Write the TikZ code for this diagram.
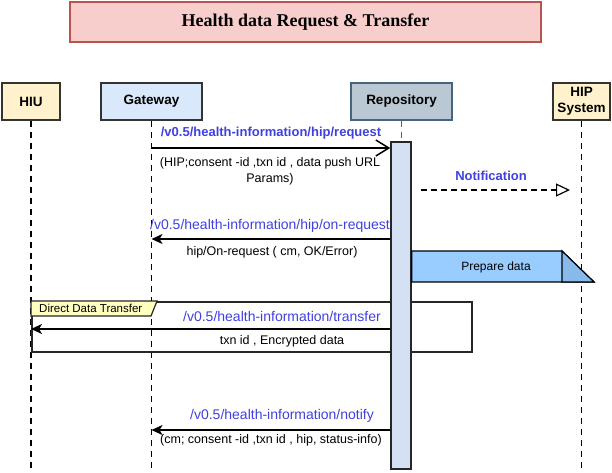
\documentclass[tikz,border=0pt]{standalone}
\usepackage{fontspec}
\setmainfont{Liberation Sans}
\newfontfamily\titlefont{Liberation Serif}
\usepackage{tikz}
\usetikzlibrary{shapes,arrows,arrows.meta,positioning,fit,backgrounds}
\definecolor{titlered}{RGB}{248, 206, 204}
\definecolor{titleedge}{RGB}{184, 84, 80}
\definecolor{paleyellow}{RGB}{255, 242, 204}
\definecolor{paleblue}{RGB}{218, 232, 252}
\definecolor{slategrey}{RGB}{186, 200, 211}
\definecolor{slateedge}{RGB}{70, 100, 125}
\definecolor{barblue}{RGB}{212, 225, 245}
\definecolor{prepblue}{RGB}{153, 204, 255}
\definecolor{foldblue}{RGB}{135, 185, 235}
\definecolor{tabyellow}{RGB}{255, 255, 192}
\definecolor{apiblue}{RGB}{64, 64, 224}
\newcommand{\msgfont}{\fontsize{12.5}{16}\selectfont}
\newcommand{\apifont}{\fontsize{14}{16}\selectfont}
\tikzstyle{titlebox} = [rectangle, draw=titleedge, line width=1.5pt, fill=titlered, text=black, text centered, font=\titlefont\bfseries\fontsize{18}{20}\selectfont]
\tikzstyle{actor} = [rectangle, draw=black!80, line width=1.5pt, text=black, align=center, font=\bfseries\fontsize{13.5}{16}\selectfont, minimum height=37pt, inner sep=1pt]
\tikzstyle{lifeline} = [draw, line width=1.2pt, dash pattern=on 6pt off 5pt]
\tikzstyle{activation} = [rectangle, draw=black!85, line width=1.5pt, fill=barblue]
\tikzstyle{call} = [draw, line width=1.5pt, -{Straight Barb[length=13pt, width=16pt, line width=1.5pt]}]
\tikzstyle{reply} = [draw, line width=1.5pt, -{Stealth[length=11pt, width=10pt, inset=3pt]}]
\tikzstyle{signal} = [draw, line width=1.2pt, dash pattern=on 6pt off 4pt, -{Triangle[open, length=14pt, width=13pt, line width=1.2pt]}]
\tikzstyle{apitext} = [draw=none, fill=none, text=apiblue, font=\apifont, inner sep=0pt]
\tikzstyle{msgtext} = [draw=none, fill=none, text=black, font=\msgfont, align=center, inner sep=0pt]
\tikzstyle{dframe} = [rectangle, draw=black!85, line width=1.5pt, anchor=north west]

\begin{document}
\begin{tikzpicture}[x=1pt, y=-1pt]
\useasboundingbox (0,0) rectangle (612,472);

% title ==================================
\node[titlebox, minimum width=471pt, minimum height=40pt] (title) at (305.5,22) {Health data Request \& Transfer};

% actors =================================
\node[actor, fill=paleyellow, minimum width=58pt] (hiu) at (31,101.5) {HIU};
\node[actor, fill=paleblue, minimum width=101pt] (gateway) at (151.5,101.5) {Gateway};
\node[actor, fill=slategrey, draw=slateedge, minimum width=101pt] (repo) at (401.5,101.5) {Repository};
\node[actor, fill=paleyellow, minimum width=57pt] (hip) at (581.5,101.5) {HIP\\System};
\coordinate (bottom) at (0,472);

% lifelines
\path[lifeline] (hiu.south) -- (hiu.south |- bottom);
\path[lifeline] (gateway.south) -- (gateway.south |- bottom);
\path[lifeline, draw=slateedge] (repo.south) -- (repo.south |- bottom);
\path[lifeline] (hip.south) -- (hip.south |- bottom);

% direct data transfer frame
\node[dframe, minimum width=440pt, minimum height=50pt] (transferframe) at (31,301) {};
\path[draw=black!85, line width=1.2pt, fill=tabyellow] (transferframe.north west) -- ++(126,0) -- ++(-6,15) -- ++(-120,0) -- cycle;
\node[msgtext, anchor=west, font=\fontsize{11.5}{14}\selectfont] (tablabel) at (39,308.5) {Direct Data Transfer};

% activation bar
\node[activation, minimum width=20pt, minimum height=327pt, anchor=north] (act) at (401,141) {};

% prepare data
\coordinate (prepA) at (act.east |- 0,251);
\coordinate (prepB) at (562,251);
\coordinate (prepC) at (594,282);
\coordinate (prepD) at (act.east |- 0,282);
\path[draw=black, line width=1.2pt, fill=prepblue] (prepA) -- (prepB) -- (prepC) -- (prepD) -- cycle;
\path[draw=black, line width=1.2pt, fill=foldblue] (prepB) -- (prepC) -- (prepB |- prepC) -- cycle;
\node[msgtext, font=\fontsize{12}{14}\selectfont] (prepare) at (496,267) {Prepare data};

% messages ===============================
\coordinate (reqstart) at (gateway.south |- 0,148);
\path[call] (reqstart) -- (act.west |- reqstart);
\node[apitext, font=\bfseries\fontsize{13}{16}\selectfont] (reqapi) at (271,133) {/v0.5/health-information/hip/request};
\node[msgtext] (reqparams) at (270,171) {(HIP;consent -id ,txn id , data push URL\\Params)};

\coordinate (ntfstart) at (421,190);
\coordinate (ntfend) at (570,190);
\path[signal] (ntfstart) -- (ntfend);
\node[apitext, font=\bfseries\fontsize{13}{16}\selectfont] (ntflabel) at (491,176) {Notification};

\coordinate (onreqend) at (gateway.south |- 0,239);
\path[reply] (act.west |- onreqend) -- (onreqend);
\node[apitext] (onreqapi) at (270,226) {/v0.5/health-information/hip/on-request};
\node[msgtext] (onreqparams) at (272,252) {hip/On-request ( cm, OK/Error)};

\coordinate (xferend) at (hiu.south |- 0,329);
\path[reply] (act.west |- xferend) -- (xferend);
\node[apitext] (xferapi) at (282,316) {/v0.5/health-information/transfer};
\node[msgtext] (xferparams) at (282,341) {txn id , Encrypted data};

\coordinate (notifyend) at (gateway.south |- 0,430);
\path[reply] (act.west |- notifyend) -- (notifyend);
\node[apitext] (notifyapi) at (282,416) {/v0.5/health-information/notify};
\node[msgtext] (notifyparams) at (271,440) {(cm; consent -id ,txn id , hip, status-info)};

\end{tikzpicture}
\end{document}
